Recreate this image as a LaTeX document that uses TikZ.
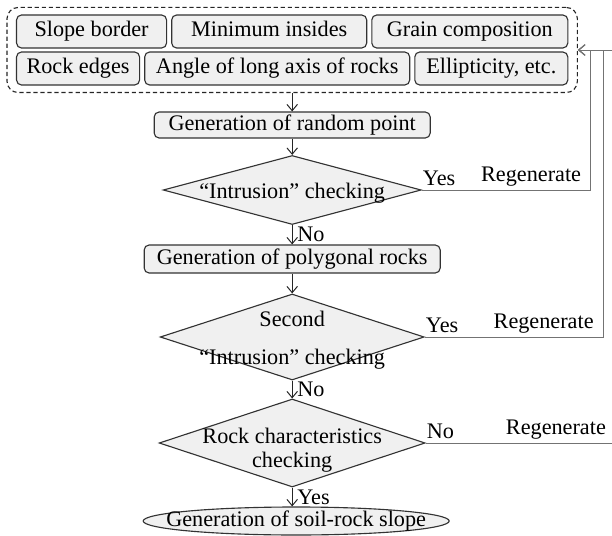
\documentclass[tikz,border=0pt]{standalone}
\usepackage{fontspec}
\setmainfont{Liberation Serif}
\usetikzlibrary{positioning, shapes.geometric, fit, arrows.meta}
\tikzstyle{factor} = [rectangle, rounded corners=3.5pt, minimum height=0.825cm, text height=11pt, text depth=3.5pt, inner ysep=1pt, text centered, draw=black!80, fill=gray!12, line width=0.8pt, anchor=west]
\tikzstyle{group} = [rectangle, rounded corners=8pt, dash pattern=on 3pt off 2pt, draw=black!85, line width=0.8pt, inner xsep=0.225cm, inner ysep=0.175cm]
\tikzstyle{process} = [rectangle, rounded corners=3.5pt, minimum height=0.7cm, text height=11pt, text depth=3.5pt, inner ysep=1pt, text centered, draw=black!80, fill=gray!12, line width=0.8pt]
\tikzstyle{decision} = [diamond, inner sep=0pt, draw=black!80, fill=gray!12, line width=0.8pt]
\tikzstyle{startstop} = [ellipse, inner sep=0pt, minimum width=7.65cm, minimum height=0.7cm, draw=black!80, fill=gray!12, line width=0.8pt]
\tikzstyle{arrow} = [->, >={Straight Barb[length=4.5pt, width=7.5pt]}, line width=0.7pt, draw=black!85]
\tikzstyle{regen} = [arrow, draw=black!55]
\tikzstyle{answer} = [above right, inner xsep=0.5pt, inner ysep=2.5pt, black]
\begin{document}
\begin{tikzpicture}[node distance=1cm, font=\fontsize{15.8}{17}\selectfont]
		\useasboundingbox (0,0) rectangle (15.3,-13.4);
		%input factors
		\node[factor, minimum width=3.75cm] (border) at (0.4,-0.7875) {Slope border};
		\node[factor, minimum width=4.875cm, right=0.1cm of border] (inside) {Minimum insides};
		\node[factor, minimum width=4.9cm, right=0.1cm of inside] (grain) {Grain composition};
		\node[factor, minimum width=3.075cm] (edge) at (0.4,-1.7125) {Rock edges};
		\node[factor, minimum width=6.625cm, right=0.1cm of edge] (angle) {Angle of long axis of rocks};
		\node[factor, minimum width=3.825cm, right=0.1cm of angle] (ellip) {Ellipticity, etc.};
		\node[group, fit=(border)(grain)(edge)(ellip)] (input) {};
		%flow shapes
		\node[process, minimum width=6.9cm, minimum height=0.65cm, below of = input, yshift = -0.875cm](point){Generation of random point};
		\node[decision, minimum width=6.45cm, minimum height=1.725cm, below of = point, yshift = -0.625cm, label={[yshift=-0.08cm]center:“Intrusion” checking}](check1){};
		\node[process, minimum width=7.4cm, below of = check1, yshift = -0.725cm](rocks){Generation of polygonal rocks};
		\node[decision, minimum width=6.6cm, minimum height=2.15cm, below of = rocks, yshift = -0.95cm, label={[align=center, yshift=-0.08cm]center:{Second\\[10.6pt]“Intrusion” checking}}](check2){};
		\node[decision, minimum width=6.65cm, minimum height=2.2cm, below of = check2, yshift = -1.65cm, label={[align=center, yshift=-0.19cm]center:{Rock characteristics\\checking}}](check3){};
		\node[startstop, below of = check3, yshift = -0.95cm, xshift = 0.1cm, label={center:Generation of soil-rock slope}](slope){};
		\coordinate (turn1) at (14.75,0);
		\coordinate (turn2) at (15.075,0);
		\coordinate (turn3) at (15.45,0);
		%connections
		\draw [arrow] (input) -- (point);
		\draw [arrow] (point) -- (check1);
		\draw [arrow] (check1) -- node [right] {No} (rocks);
		\draw [arrow] (rocks) -- (check2);
		\draw [arrow] (check2) -- node [right] {No} (check3);
		\draw [arrow] (check3.south) -- node [right] {Yes} (check3.south |- slope.north);
		\draw [regen] (check1.east) node [answer] {Yes} -- node [above, inner sep=2pt, pos=0.65, black] {Regenerate} (check1.east -| turn1) |- (input.east);
		\draw [regen] (check2.east) node [answer] {Yes} -- node [above, inner sep=2pt, pos=0.667, black] {Regenerate} (check2.east -| turn2) |- (input.east);
		\draw [regen] (check3.east) node [answer] {No} -- node [above, inner sep=2pt, pos=0.677, black] {Regenerate} (check3.east -| turn3) |- (input.east);
	\end{tikzpicture}
\end{document}
